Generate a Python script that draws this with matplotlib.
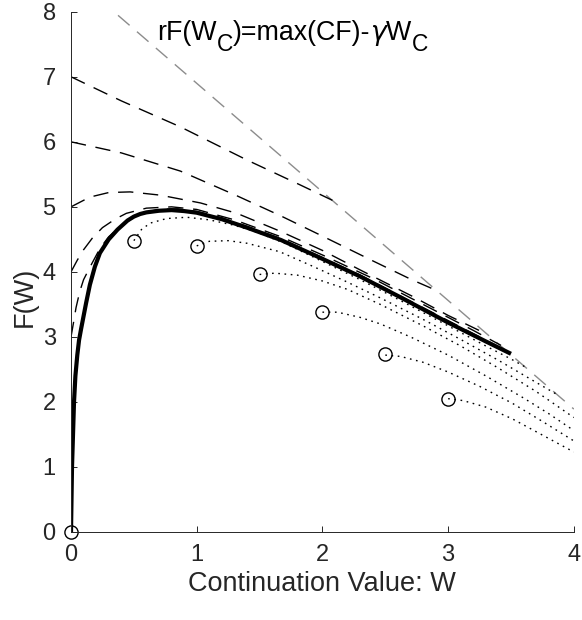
import numpy as np
import matplotlib
matplotlib.use("Agg")
import matplotlib.pyplot as plt

plt.rcParams['font.family'] = ['Liberation Sans', 'DejaVu Sans']

# optimal value function F(W) (thick)
W_opt = [0.0, 0.008, 0.024, 0.035, 0.05, 0.064, 0.08, 0.1, 0.12, 0.15, 0.19, 0.23, 0.3,
         0.37, 0.45, 0.5, 0.55, 0.6, 0.7, 0.8, 0.9, 1.0, 1.2, 1.4, 1.67, 2.0, 2.3, 2.6,
         3.0, 3.3, 3.5]
F_opt = [0.0, 1.0, 2.0, 2.4, 2.72, 2.95, 3.12, 3.32, 3.52, 3.8, 4.08, 4.29, 4.5,
         4.65, 4.79, 4.85, 4.89, 4.915, 4.94, 4.95, 4.935, 4.91, 4.81, 4.68, 4.49, 4.2,
         3.93, 3.63, 3.22, 2.93, 2.74]

# boundary line rF(W_C) = max(CF) - gamma W_C (gray dashed)
W_bound = [0.0, 4.0]
F_bound = [8.57, 1.89]

# shooting solutions from different F(0) (dashed)
W_f7 = [0.0, 0.4, 0.87, 1.4, 1.82, 2.08]
F_f7 = [7.0, 6.63, 6.23, 5.72, 5.34, 5.1]
W_f6 = [0.0, 0.4, 0.87, 1.32, 1.67, 2.0, 2.4, 2.71, 2.9]
F_f6 = [6.0, 5.83, 5.55, 5.17, 4.86, 4.55, 4.17, 3.88, 3.72]
W_f5 = [0.0, 0.15, 0.3, 0.47, 0.71, 1.03, 1.32, 1.67, 2.0, 2.3, 2.72, 3.0, 3.31]
F_f5 = [5.0, 5.15, 5.22, 5.23, 5.18, 5.06, 4.9, 4.62, 4.33, 4.03, 3.62, 3.33, 3.04]
W_f4 = [0.0, 0.05, 0.1, 0.17, 0.25, 0.35, 0.44, 0.6, 0.8, 1.0, 1.3, 1.67, 2.0, 2.4,
        2.8, 3.2, 3.42]
F_f4 = [4.0, 4.18, 4.34, 4.52, 4.68, 4.81, 4.9, 4.98, 5.0, 4.96, 4.8, 4.54, 4.26, 3.9,
        3.5, 3.1, 2.87]
W_f3 = [0.0, 0.02, 0.04, 0.07, 0.1, 0.15, 0.23, 0.3, 0.4, 0.55, 0.7, 0.85, 1.0, 1.2,
        1.4, 1.67, 2.0, 2.3, 2.6, 3.0, 3.3, 3.47]
F_f3 = [3.0, 3.22, 3.45, 3.7, 3.88, 4.07, 4.36, 4.54, 4.71, 4.9, 4.96, 4.97, 4.93, 4.83,
        4.7, 4.51, 4.22, 3.95, 3.65, 3.25, 2.95, 2.78]

# solutions started from the circled points (dotted)
W_d1 = [0.5, 0.56, 0.63, 0.76, 0.92, 1.1, 1.29, 1.45, 1.7, 2.0, 2.3, 2.6, 3.0, 3.3, 3.5, 3.62]
F_d1 = [4.48, 4.65, 4.75, 4.82, 4.84, 4.8, 4.72, 4.63, 4.44, 4.16, 3.88, 3.58, 3.17, 2.86, 2.66, 2.53]
W_d2 = [1.0, 1.1, 1.25, 1.4, 1.66, 1.93, 2.19, 2.46, 2.8, 3.1, 3.4, 3.7, 3.87]
F_d2 = [4.4, 4.47, 4.48, 4.44, 4.31, 4.08, 3.85, 3.6, 3.27, 2.96, 2.64, 2.3, 2.11]
W_d3 = [1.5, 1.62, 1.8, 2.0, 2.2, 2.46, 2.8, 3.1, 3.4, 3.7, 4.0]
F_d3 = [3.96, 3.98, 3.95, 3.86, 3.73, 3.5, 3.17, 2.86, 2.52, 2.16, 1.76]
W_d4 = [2.0, 2.12, 2.3, 2.46, 2.7, 3.0, 3.3, 3.6, 3.8, 4.0]
F_d4 = [3.38, 3.38, 3.3, 3.2, 3.0, 2.72, 2.4, 2.06, 1.82, 1.56]
W_d5 = [2.5, 2.62, 2.8, 3.0, 3.25, 3.51, 3.75, 4.0]
F_d5 = [2.72, 2.7, 2.61, 2.46, 2.24, 1.98, 1.7, 1.4]
W_d6 = [3.0, 3.12, 3.3, 3.51, 3.75, 4.0]
F_d6 = [2.05, 2.02, 1.92, 1.74, 1.49, 1.23]

W_pts = [0.0, 0.5, 1.0, 1.5, 2.0, 2.5, 3.0]
F_pts = [0.0, 4.48, 4.4, 3.96, 3.38, 2.73, 2.05]

# annotation pieces: (text, kind) n=normal, s=subscript, g=greek
label_parts = [("rF(W", 'n'), ("C", 's'), (")=max(CF)-", 'n'), ("γ", 'g'), ("W", 'n'), ("C", 's')]

fig = plt.figure(figsize=(5.82, 6.2), dpi=100)
ax = fig.add_axes([0.122, 0.142, 0.864, 0.839])

dash = (11, 7)
ax.plot(W_bound, F_bound, color='#8c8c8c', lw=1.0, dashes=dash)
for w, f in [(W_f7, F_f7), (W_f6, F_f6), (W_f5, F_f5), (W_f4, F_f4), (W_f3, F_f3)]:
    ax.plot(w, f, color='k', lw=1.0, dashes=dash)
for w, f in [(W_d1, F_d1), (W_d2, F_d2), (W_d3, F_d3), (W_d4, F_d4), (W_d5, F_d5), (W_d6, F_d6)]:
    ax.plot(w, f, color='k', lw=1.0, dashes=(1.2, 3.3))
ax.plot(W_opt, F_opt, color='k', lw=3.0, solid_capstyle='butt', solid_joinstyle='round')
ax.plot(W_pts, F_pts, 'o', mfc='none', mec='k', ms=9.5, mew=1.0, clip_on=False)

# annotation built piece by piece so the subscripts sit low like the original
FW, FH = 582.0, 620.0
fs = 19.3
renderer = fig.canvas.get_renderer()
x = 157.0
base = FH - 40.0
for s, kind in label_parts:
    if kind == 's':
        t = fig.text(x / FW, (base - 11) / FH, s, fontsize=fs * 0.85, va='baseline')
    elif kind == 'g':
        t = fig.text(x / FW, base / FH, s, fontsize=fs, va='baseline',
                     family='DejaVu Sans', style='italic')
    else:
        t = fig.text(x / FW, base / FH, s, fontsize=fs, va='baseline')
    x += t.get_window_extent(renderer).width

ax.set_xlim(0, 4)
ax.set_ylim(0, 8)
ax.set_xticks([0, 1, 2, 3, 4])
ax.set_yticks(range(9))
for s in ['top', 'right']:
    ax.spines[s].set_visible(False)
for s in ['left', 'bottom']:
    ax.spines[s].set_color('#262626')
    ax.spines[s].set_linewidth(0.7)
ax.tick_params(direction='in', length=4, width=0.7, colors='#262626', labelsize=17)
ax.tick_params(axis='x', pad=9)
ax.tick_params(axis='y', pad=11)
ax.set_xlabel('Continuation Value: W', fontsize=19.5, color='#262626', labelpad=3)
ax.set_ylabel('F(W)', fontsize=19.5, color='#262626')
ax.yaxis.set_label_coords(-0.066, 0.452)

fig.savefig('out.png', dpi=100)
